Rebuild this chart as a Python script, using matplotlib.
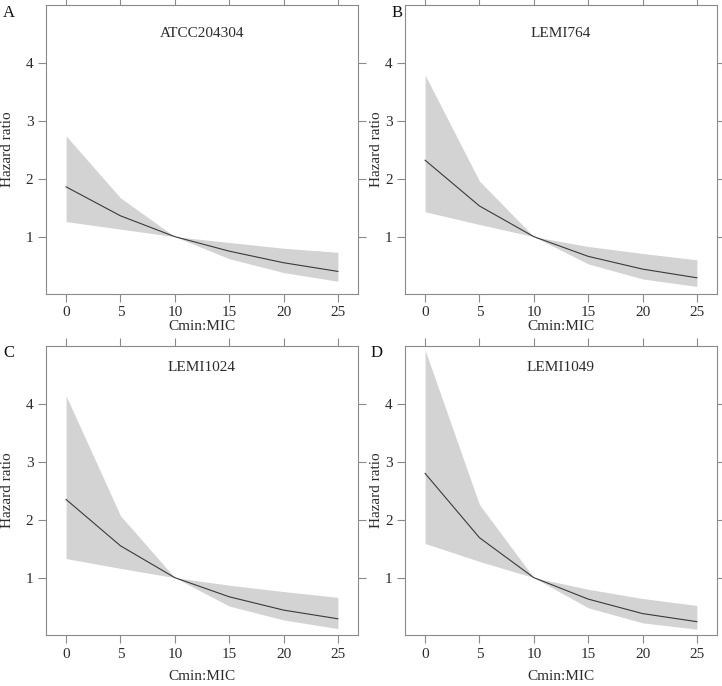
import matplotlib
matplotlib.use("Agg")
import matplotlib.pyplot as plt

plt.rcParams['font.family'] = ['Liberation Serif', 'DejaVu Serif']

# Cmin:MIC values (shared by all panels)
cmin_mic = [0, 5, 10, 15, 20, 25]

# strain names and panel letters
strains = ['ATCC204304', 'LEMI764', 'LEMI1024', 'LEMI1049']
letters = ['A', 'B', 'C', 'D']

# hazard ratio estimate, lower and upper bounds per strain
hr_atcc = [1.86, 1.36, 1.0, 0.75, 0.55, 0.40]
lo_atcc = [1.26, 1.13, 1.0, 0.62, 0.38, 0.23]
hi_atcc = [2.74, 1.67, 1.0, 0.90, 0.80, 0.73]

hr_764 = [2.32, 1.53, 1.0, 0.66, 0.44, 0.29]
lo_764 = [1.43, 1.21, 1.0, 0.53, 0.27, 0.14]
hi_764 = [3.79, 1.96, 1.0, 0.83, 0.71, 0.60]

hr_1024 = [2.35, 1.55, 1.0, 0.67, 0.44, 0.29]
lo_1024 = [1.33, 1.16, 1.0, 0.51, 0.27, 0.12]
hi_1024 = [4.14, 2.07, 1.0, 0.87, 0.76, 0.66]

hr_1049 = [2.80, 1.69, 1.0, 0.63, 0.38, 0.24]
lo_1049 = [1.59, 1.28, 1.0, 0.48, 0.22, 0.11]
hi_1049 = [4.93, 2.26, 1.0, 0.80, 0.64, 0.52]

hr_all = [hr_atcc, hr_764, hr_1024, hr_1049]
lo_all = [lo_atcc, lo_764, lo_1024, lo_1049]
hi_all = [hi_atcc, hi_764, hi_1024, hi_1049]

W, H = 722, 686
fig = plt.figure(figsize=(W / 100, H / 100), dpi=100)

# panel boxes in pixels: left, right, top, bottom
boxes = [(46, 358, 5, 294), (405, 717, 5, 294),
         (46, 358, 346, 635), (405, 717, 346, 635)]
xlab_y = [-0.114, -0.114, -0.142, -0.142]
ylab_x = [-0.122, -0.091, -0.122, -0.091]
title_y = [0.903, 0.903, 0.924, 0.924]
letter_pos = [(9, 13), (397, 13), (9, 353), (377, 353)]

spine_col = '#8a8a8a'
text_col = '#2b2b2b'

for i in range(4):
    l, r, t, b = boxes[i]
    ax = fig.add_axes([l / W, 1 - b / H, (r - l) / W, (b - t) / H])
    ax.fill_between(cmin_mic, lo_all[i], hi_all[i], color='#d3d3d3', lw=0)
    ax.plot(cmin_mic, hr_all[i], color='#3a3a3a', lw=0.8)

    ax.set_xlim(-1.85, 26.85)
    ax.set_ylim(0.01, 5.0)
    ax.set_xticks([0, 5, 10, 15, 20, 25])
    ax.set_yticks([1, 2, 3, 4])
    ax.tick_params(direction='out', length=6, width=0.8, color=spine_col,
                   top=True, right=True, labeltop=False, labelright=False,
                   labelsize=11, labelcolor=text_col, pad=3)
    for s in ax.spines.values():
        s.set_color(spine_col)
        s.set_linewidth(0.8)

    ax.set_xlabel('Cmin:MIC', fontsize=11, color=text_col, va='center')
    ax.xaxis.set_label_coords(0.5, xlab_y[i])
    ax.set_ylabel('Hazard ratio', fontsize=11, color=text_col, va='center')
    ax.yaxis.set_label_coords(ylab_x[i], 0.5)

    ax.text(0.5, title_y[i], strains[i], transform=ax.transAxes,
            ha='center', va='center', fontsize=11, color=text_col)

    lx, ly = letter_pos[i]
    fig.text(lx / W, 1 - ly / H, letters[i], ha='center', va='center',
             fontsize=12, color='#111111')

fig.savefig('out.png', dpi=100)
